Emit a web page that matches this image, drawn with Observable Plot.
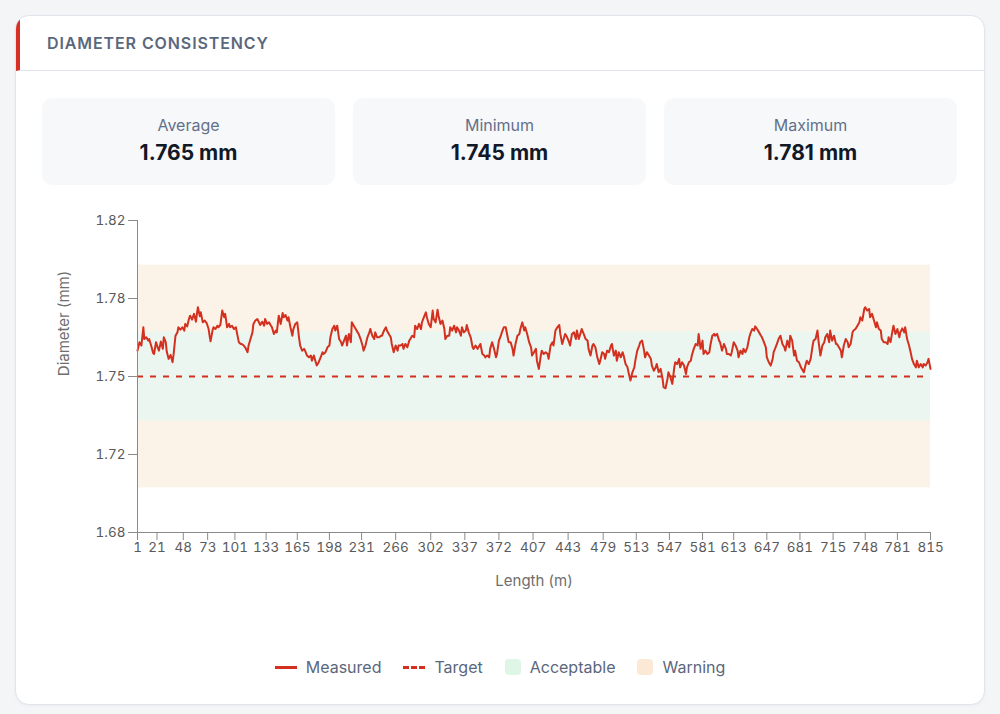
<!DOCTYPE html>
<html>
<head>
<meta charset="utf-8">
<script src="https://cdn.jsdelivr.net/npm/d3@7"></script>
<script src="https://cdn.jsdelivr.net/npm/@observablehq/plot@0.6"></script>
<style>
  html, body { margin: 0; padding: 0; }
  body { width: 1000px; height: 714px; background: #f4f5f7; font-family: Inter, "Noto Sans", sans-serif; position: relative; overflow: hidden; }
  .card { position: absolute; left: 15px; top: 15px; width: 970px; height: 690px; box-sizing: border-box; background: #fff; border: 1px solid #e1e4ea; border-radius: 14px; overflow: hidden; box-shadow: 0 1px 3px rgba(0,0,0,0.04); }
  .header { position: absolute; left: 0; top: 0; right: 0; height: 54px; border-bottom: 1px solid #e1e4ea; border-left: 4px solid #d93025; box-sizing: content-box; }
  .header .title { position: absolute; left: 27px; top: 0; line-height: 54px; font-size: 16px; font-weight: 600; letter-spacing: 0.9px; color: #5b677d; }
  .stats { position: absolute; left: 26px; top: 82px; display: flex; gap: 18px; }
  .stat { position: relative; width: 293px; height: 87px; background: #f7f8fa; border-radius: 10px; text-align: center; }
  .stat .lab { position: absolute; left: 0; right: 0; top: 17px; line-height: 20px; font-size: 16px; color: #64708a; }
  .stat .val { position: absolute; left: 0; right: 0; top: 42px; line-height: 26px; font-size: 21px; font-weight: 700; color: #111827; }
  #chart { position: absolute; left: 26px; top: 184px; }
  .legend { position: absolute; left: 0; right: 0; top: 641px; display: flex; justify-content: center; gap: 22px; font-size: 16px; color: #5b677d; line-height: 20px; }
  .legend .item { display: flex; align-items: center; gap: 9px; }
  .sw-line { width: 22px; height: 0; border-top: 3px solid #d3301f; }
  .sw-dash { width: 22px; height: 0; border-top: 3px dashed #d3301f; }
  .sw-box { width: 16px; height: 16px; border-radius: 4px; }
</style>
</head>
<body>
<div class="card">
  <div class="header"><div class="title">DIAMETER CONSISTENCY</div></div>
  <div class="stats" id="stats"></div>
  <div id="chart"></div>
  <div class="legend" id="legend"></div>
</div>
<script>
// ---- data ----
const statLabels = ["Average", "Minimum", "Maximum"];
const statValues = ["1.765 mm", "1.745 mm", "1.781 mm"];

const target = 1.75;
const acceptableBand = [1.73, 1.77];
const warningBand = [1.70, 1.80];

const yDomain = [1.68, 1.82];
const yTicks = [1.68, 1.715, 1.75, 1.785, 1.82];
const yTickLabels = ["1.68", "1.72", "1.75", "1.78", "1.82"];

const xDomain = [1, 815];
const xTicks = [1, 21, 48, 73, 101, 133, 165, 198, 231, 266, 302, 337, 372, 407, 443, 479, 513, 547, 581, 613, 647, 681, 715, 748, 781, 815];

const lengths = [
1,3,5,7,8,10,12,13,15,17,18,20,22,23,25,27,28,30,31,33,35,37,38,40,42,43,45,47,49,50,52,54,55,57,59,61,62,63,65,66,68,70,72,74,75,76,78,79,81,83,84,86,88,90,91,93,95,96,98,100,102,103,105,107,108,110,112,114,115,117,119,120,122,124,126,127,129,131,
132,134,136,138,139,141,143,144,146,148,150,151,153,155,156,158,160,161,163,165,167,168,170,172,173,175,177,179,180,182,184,185,187,189,191,192,194,196,198,199,201,203,204,206,208,210,211,213,215,216,218,220,221,223,225,227,228,230,232,233,235,237,239,240,242,244,245,247,249,251,252,254,256,257,259,261,262,264,266,268,269,
271,273,274,276,278,280,281,283,285,286,288,290,292,293,295,297,298,300,302,304,305,307,309,310,312,314,316,317,319,321,322,324,326,328,329,331,333,334,336,338,339,341,343,345,346,348,350,351,353,355,357,358,360,362,363,365,367,369,370,372,374,375,377,379,381,382,384,386,387,389,391,393,394,396,398,399,401,403,405,406,408,410,411,413,
415,416,418,420,422,423,425,427,428,430,432,434,435,437,439,440,442,444,445,447,449,451,452,454,456,457,459,461,463,464,466,468,469,471,473,475,476,478,480,481,483,485,487,488,490,492,493,495,497,499,500,502,504,505,507,509,511,512,514,516,517,519,521,522,524,526,528,529,531,533,534,536,538,540,541,543,545,546,
548,550,552,553,555,557,558,560,562,564,565,567,569,570,572,574,576,577,579,581,582,584,586,588,589,591,593,594,596,598,599,601,603,605,606,608,610,611,613,615,617,618,620,622,623,625,627,629,630,632,634,635,637,639,641,642,644,646,647,649,651,653,654,656,658,659,661,663,665,666,668,670,671,673,675,676,678,680,682,683,685,
687,688,690,692,694,695,697,699,700,702,704,706,707,709,711,712,714,716,718,719,721,723,724,726,728,730,731,733,735,736,738,740,742,743,745,747,748,750,752,753,755,757,759,760,762,764,765,767,769,771,772,774,776,777,779,781,783,784,786,788,789,791,793,795,796,798,800,801,803,805,807,808,810,812,813,815
];

const diameters = [
1.7616,1.7654,1.7639,1.7721,1.7668,1.7676,1.7661,1.7668,1.7639,1.7606,1.7601,1.7654,1.7627,1.7616,1.7657,1.7624,1.7676,1.7654,1.7612,1.7579,1.7597,1.7564,1.7597,1.7683,1.7698,1.7721,1.7710,1.7721,1.7706,1.7736,1.7725,1.7761,1.7773,1.7755,1.7781,1.7746,1.7781,1.7811,1.7770,1.7788,1.7743,1.7751,1.7740,1.7713,1.7683,1.7658,1.7706,1.7721,1.7713,1.7728,1.7721,1.7731,1.7796,1.7766,1.7781,1.7721,1.7736,1.7721,1.7728,1.7713,1.7721,1.7698,1.7654,1.7646,1.7646,1.7639,1.7627,1.7609,1.7639,1.7668,1.7698,1.7736,1.7751,1.7758,1.7740,1.7731,1.7746,1.7728,
1.7758,1.7736,1.7743,1.7728,1.7721,1.7691,1.7706,1.7698,1.7773,1.7736,1.7785,1.7766,1.7776,1.7751,1.7766,1.7721,1.7683,1.7713,1.7736,1.7743,1.7668,1.7639,1.7616,1.7624,1.7616,1.7594,1.7586,1.7594,1.7571,1.7594,1.7564,1.7549,1.7564,1.7586,1.7609,1.7601,1.7609,1.7631,1.7639,1.7676,1.7713,1.7728,1.7706,1.7728,1.7668,1.7654,1.7639,1.7661,1.7683,1.7639,1.7691,1.7654,1.7743,1.7728,1.7713,1.7698,1.7691,1.7668,1.7639,1.7616,1.7639,1.7676,1.7698,1.7713,1.7683,1.7668,1.7698,1.7676,1.7676,1.7683,1.7683,1.7706,1.7721,1.7706,1.7691,1.7676,1.7646,1.7609,1.7639,1.7616,1.7639,
1.7639,1.7646,1.7624,1.7646,1.7631,1.7661,1.7668,1.7683,1.7676,1.7728,1.7713,1.7736,1.7713,1.7743,1.7766,1.7788,1.7766,1.7736,1.7721,1.7796,1.7758,1.7743,1.7800,1.7773,1.7736,1.7751,1.7713,1.7668,1.7683,1.7683,1.7721,1.7706,1.7728,1.7698,1.7721,1.7706,1.7683,1.7721,1.7698,1.7706,1.7731,1.7698,1.7676,1.7631,1.7624,1.7639,1.7624,1.7631,1.7646,1.7601,1.7594,1.7586,1.7594,1.7586,1.7624,1.7654,1.7624,1.7586,1.7601,1.7661,1.7683,1.7698,1.7721,1.7721,1.7676,1.7654,1.7654,1.7624,1.7594,1.7646,1.7683,1.7691,1.7713,1.7743,1.7706,1.7721,1.7691,1.7654,1.7631,1.7594,1.7609,1.7624,1.7571,1.7534,
1.7594,1.7616,1.7601,1.7609,1.7601,1.7579,1.7639,1.7654,1.7639,1.7706,1.7721,1.7731,1.7691,1.7646,1.7676,1.7691,1.7676,1.7654,1.7639,1.7691,1.7698,1.7668,1.7706,1.7668,1.7698,1.7713,1.7691,1.7668,1.7661,1.7624,1.7594,1.7639,1.7646,1.7631,1.7586,1.7556,1.7571,1.7609,1.7601,1.7579,1.7616,1.7609,1.7639,1.7646,1.7594,1.7616,1.7571,1.7609,1.7586,1.7609,1.7594,1.7556,1.7541,1.7519,1.7482,1.7519,1.7541,1.7571,1.7616,1.7639,1.7654,1.7661,1.7616,1.7586,1.7609,1.7594,1.7579,1.7549,1.7526,1.7541,1.7556,1.7519,1.7534,1.7489,1.7452,1.7447,1.7489,1.7519,
1.7497,1.7467,1.7541,1.7564,1.7556,1.7579,1.7541,1.7564,1.7549,1.7511,1.7541,1.7564,1.7571,1.7594,1.7624,1.7646,1.7639,1.7691,1.7624,1.7661,1.7601,1.7616,1.7601,1.7609,1.7639,1.7683,1.7691,1.7683,1.7691,1.7661,1.7654,1.7616,1.7646,1.7624,1.7601,1.7601,1.7594,1.7609,1.7654,1.7639,1.7616,1.7586,1.7616,1.7601,1.7624,1.7609,1.7631,1.7676,1.7691,1.7713,1.7706,1.7725,1.7713,1.7698,1.7683,1.7676,1.7654,1.7631,1.7586,1.7564,1.7549,1.7579,1.7609,1.7631,1.7654,1.7668,1.7683,1.7646,1.7631,1.7616,1.7661,1.7631,1.7683,1.7661,1.7594,1.7616,1.7571,1.7564,1.7541,1.7534,1.7519,
1.7556,1.7571,1.7556,1.7579,1.7639,1.7661,1.7668,1.7706,1.7661,1.7594,1.7639,1.7654,1.7676,1.7691,1.7654,1.7706,1.7661,1.7683,1.7646,1.7646,1.7631,1.7616,1.7586,1.7639,1.7668,1.7654,1.7631,1.7646,1.7698,1.7706,1.7713,1.7728,1.7743,1.7766,1.7751,1.7803,1.7811,1.7796,1.7803,1.7766,1.7781,1.7751,1.7721,1.7743,1.7713,1.7706,1.7668,1.7654,1.7654,1.7646,1.7676,1.7654,1.7706,1.7728,1.7691,1.7713,1.7676,1.7698,1.7716,1.7698,1.7721,1.7668,1.7639,1.7601,1.7579,1.7556,1.7541,1.7571,1.7541,1.7556,1.7541,1.7556,1.7549,1.7564,1.7579,1.7534
];

const legendItems = [
  {label: "Measured", kind: "line"},
  {label: "Target", kind: "dash"},
  {label: "Acceptable", kind: "box", color: "#dff5e5"},
  {label: "Warning", kind: "box", color: "#fbe9d6"}
];

// ---- colours ----
const lineColor = "#d3301f";
const warnFill = "#fcf3e8";
const accFill = "#eaf6ef";
const axisColor = "#8a8a8a";
const tickText = "#5a5a5a";

// ---- stats ----
const statsEl = document.getElementById("stats");
statLabels.forEach((l, i) => {
  const d = document.createElement("div");
  d.className = "stat";
  d.innerHTML = `<div class="lab">${l}</div><div class="val">${statValues[i]}</div>`;
  statsEl.appendChild(d);
});

// ---- chart ----
const data = lengths.map((l, i) => ({length: l, diameter: diameters[i]}));

const chart = Plot.plot({
  width: 916,
  height: 400,
  marginLeft: 95,
  marginRight: 28,
  marginTop: 20,
  marginBottom: 68,
  style: {fontFamily: "Inter, 'Noto Sans', sans-serif", fontSize: "13px", background: "transparent"},
  x: {domain: xDomain},
  y: {domain: yDomain},
  marks: [
    Plot.rect([warningBand], {y1: d => d[0], y2: d => d[1], fill: warnFill}),
    Plot.rect([acceptableBand], {y1: d => d[0], y2: d => d[1], fill: accFill}),
    Plot.ruleY([target], {stroke: lineColor, strokeWidth: 2, strokeDasharray: "6,7"}),
    Plot.line(data, {x: "length", y: "diameter", stroke: lineColor, strokeWidth: 2, strokeLinejoin: "round"}),
    Plot.ruleX([xDomain[0]], {stroke: axisColor, strokeWidth: 1}),
    Plot.ruleY([yDomain[0]], {stroke: axisColor, strokeWidth: 1}),
    Plot.axisY(yTicks, {tickFormat: (d) => yTickLabels[yTicks.indexOf(d)], tickSize: 9, tickPadding: 3, fontSize: 13.5, stroke: axisColor, fill: tickText, label: null}),
    Plot.axisX(xTicks, {tickSize: 8, tickPadding: 2, fontSize: 13.5, stroke: axisColor, fill: tickText, label: null}),
    Plot.text(["Diameter (mm)"], {frameAnchor: "left", textAnchor: "middle", lineAnchor: "middle", rotate: -90, dx: -73.5, dy: -53, fontSize: 15, fill: "#6e6e6e"}),
    Plot.text(["Length (m)"], {frameAnchor: "bottom", textAnchor: "middle", lineAnchor: "middle", dy: 49, fontSize: 15, fill: "#6e6e6e"})
  ]
});
document.getElementById("chart").appendChild(chart);

// ---- legend ----
const legendEl = document.getElementById("legend");
legendItems.forEach(it => {
  const d = document.createElement("div");
  d.className = "item";
  let sw;
  if (it.kind === "line") sw = `<div class="sw-line"></div>`;
  else if (it.kind === "dash") sw = `<div class="sw-dash"></div>`;
  else sw = `<div class="sw-box" style="background:${it.color}"></div>`;
  d.innerHTML = sw + `<span>${it.label}</span>`;
  legendEl.appendChild(d);
});
</script>
</body>
</html>
